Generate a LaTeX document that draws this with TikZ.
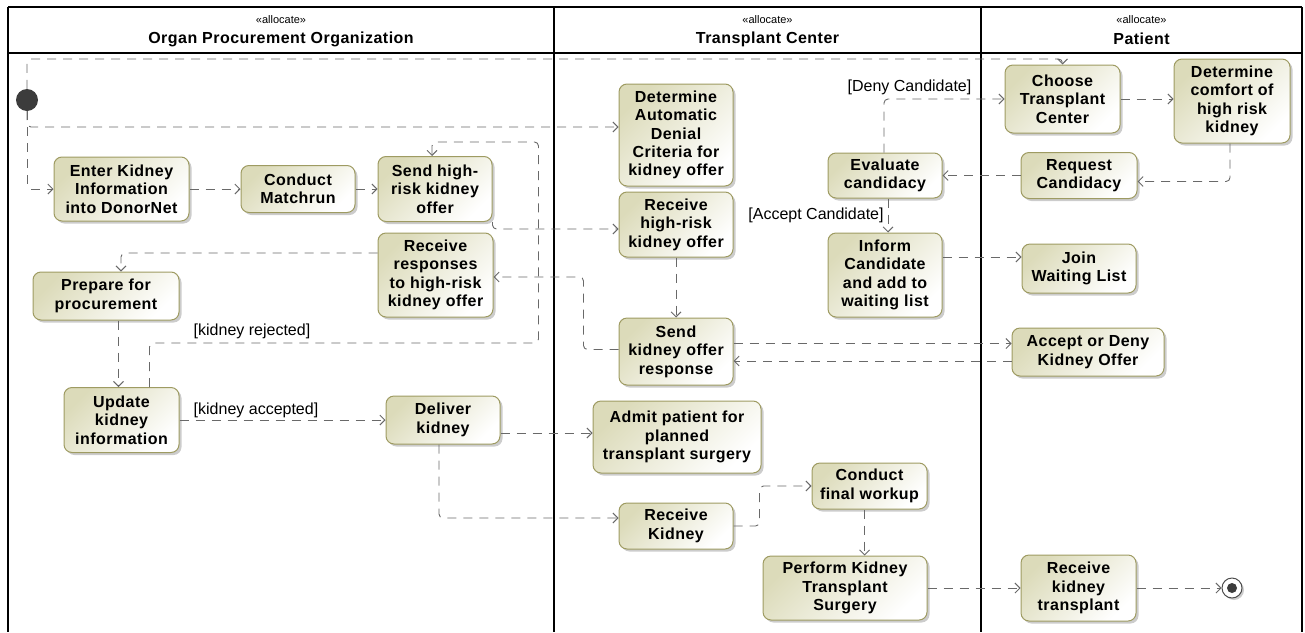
\documentclass[tikz,border=0pt]{standalone}
\usepackage{fontspec}
\setmainfont{Liberation Sans}
\newfontfamily\actfont[LetterSpace=3]{Liberation Sans}
\usetikzlibrary{arrows.meta,shadows}
\definecolor{actfill}{RGB}{220,219,186}
\definecolor{actline}{RGB}{158,155,98}
\definecolor{flowgray}{RGB}{105,105,105}
\definecolor{initgray}{RGB}{60,60,60}
\begin{document}
\begin{tikzpicture}[x=1pt,y=-1pt,
  act/.style 2 args={draw=actline, line width=1pt, rounded corners=8pt,
    top color=actfill, bottom color=white, shading angle=45,
    drop shadow={shadow xshift=2.5pt, shadow yshift=-2.5pt, fill=black!40, opacity=0.5},
    minimum width=#1, minimum height=#2, inner sep=0pt, align=center,
    font=\actfont\bfseries\fontsize{16}{18.4}\selectfont},
  flow/.style={draw=flowgray, line width=0.9pt, dash pattern=on 9pt off 7pt,
    rounded corners=4pt, -{Straight Barb[length=5pt,width=10pt]}},
  guard/.style={font=\fontsize{16}{18}\selectfont, inner sep=0pt},
  lane/.style={line width=1.6pt},
  stereo/.style={font=\fontsize{11}{12}\selectfont},
  lanetitle/.style={font=\actfont\bfseries\fontsize{16}{18}\selectfont}]
  \useasboundingbox (0,0) rectangle (1305,632);
  \draw[lane] (8,7) -- (1302,7) (8,53) -- (1302,53);
  \foreach \x in {8,554,981,1302} \draw[lane] (\x,7) -- (\x,632);
  \node[stereo] (stopo) at (281,20) {«allocate»};
  \node[lanetitle] (hdopo) at (281,39) {Organ Procurement Organization};
  \node[stereo] (sttc) at (767.5,20) {«allocate»};
  \node[lanetitle] (hdtc) at (767.5,39) {Transplant Center};
  \node[stereo] (stpat) at (1141.5,20) {«allocate»};
  \node[lanetitle] (hdpat) at (1141.5,39) {Patient};

  \node[circle, fill=initgray, minimum size=22pt, inner sep=0pt] (init) at (27,100) {};
  \node[act={135}{64}] (enter) at (121.5,189) {Enter Kidney\\Information\\into DonorNet};
  \node[act={114}{47}] (match) at (298,189) {Conduct\\Matchrun};
  \node[act={114}{65}] (sendoffer) at (435,189) {Send high-\\risk kidney\\offer};
  \node[act={115}{84}] (recresp) at (435.5,275) {Receive\\responses\\to high-risk\\kidney offer};
  \node[act={146}{48}] (prepare) at (106,296) {Prepare for\\procurement};
  \node[act={115}{65}] (update) at (121.5,420) {Update\\kidney\\information};
  \node[act={114}{48}] (deliver) at (443,420) {Deliver\\kidney};
  \node[act={114}{102}] (autodeny) at (676,135) {Determine\\Automatic\\Denial\\Criteria for\\kidney offer};
  \node[act={114}{65}] (rechigh) at (676,224.5) {Receive\\high-risk\\kidney offer};
  \node[act={114}{67}] (sendresp) at (676,351.5) {Send\\kidney offer\\response};
  \node[act={168}{72}] (admit) at (677,437) {Admit patient for\\planned\\transplant surgery};
  \node[act={114}{46}] (reckidney) at (676,526) {Receive\\Kidney};
  \node[act={115}{46}] (workup) at (869.5,486) {Conduct\\final workup};
  \node[act={164}{64}] (perform) at (845,588) {Perform Kidney\\Transplant\\Surgery};
  \node[act={114}{45}] (evaluate) at (885,175.5) {Evaluate\\candidacy};
  \node[act={114}{84}] (inform) at (885,275) {Inform\\Candidate\\and add to\\waiting list};
  \node[act={115}{68}] (choose) at (1062.5,99) {Choose\\Transplant\\Center};
  \node[act={116}{84}] (comfort) at (1232,101) {Determine\\comfort of\\high risk\\kidney};
  \node[act={116}{46}] (request) at (1079,175.5) {Request\\Candidacy};
  \node[act={114}{49}] (join) at (1079,268.5) {Join\\Waiting List};
  \node[act={152}{48}] (acceptdeny) at (1088,352) {Accept or Deny\\Kidney Offer};
  \node[act={115}{66}] (rectrans) at (1078.5,588) {Receive\\kidney\\transplant};
  \node[circle, draw=black!70, fill=white, line width=1pt, minimum size=20pt, inner sep=0pt,
    drop shadow={shadow xshift=2pt, shadow yshift=-2pt, fill=black!40, opacity=0.5},
    path picture={\fill[initgray] (path picture bounding box.center) circle (5pt);}] (final) at (1232,588) {};

  \draw[flow] (init.north) -- (init |- 0,59) -| (choose.north);
  \draw[flow] (init.south) |- ([yshift=8pt]autodeny.west);
  \draw[flow] (init.south) |- (enter.west);
  \draw[flow] (enter.east) -- (match.west);
  \draw[flow] (match.east) -- (sendoffer.west);
  \draw[flow] (sendoffer.south east) |- ([yshift=-4.5pt]rechigh.west);
  \draw[flow] (rechigh) -- (sendresp);
  \draw[flow] ([yshift=8pt]sendresp.east) -- ([yshift=8pt]sendresp.east -| acceptdeny.west);
  \draw[flow] ([yshift=-9pt]acceptdeny.west) -- ([yshift=-9pt]acceptdeny.west -| sendresp.east);
  \draw[flow] ([yshift=2pt]sendresp.west) -| ([xshift=90pt,yshift=-2pt]recresp.east) -- ([yshift=-2pt]recresp.east);
  \draw[flow] ([yshift=22pt]recresp.west) -| ([xshift=15pt]prepare.north);
  \draw[flow] ([xshift=-3pt]update.north |- prepare.south) -- ([xshift=-3pt]update.north);
  \draw[flow] ([xshift=28pt]update.north) -- ++(0,-44) -| ([xshift=46pt,yshift=14pt]sendoffer.north east) -| ([xshift=-3pt]sendoffer.north);
  \node[guard] (rej) at (252,331) {[kidney rejected]};
  \draw[flow] (update.east) -- (deliver.west);
  \node[guard] (acc) at (256,410) {[kidney accepted]};
  \draw[flow] ([yshift=-13pt]deliver.east) -- ([yshift=-13pt]deliver.east -| admit.west);
  \draw[flow] ([xshift=-4pt]deliver.south) |- ([yshift=8pt]reckidney.west);
  \draw[flow] (reckidney.east) -- ++(26,0) |- (workup.west);
  \draw[flow] ([xshift=-5pt]workup.south) -- ([xshift=-5pt]workup.south |- perform.north);
  \draw[flow] (perform.east) -- (rectrans.west);
  \draw[flow] (rectrans.east) -- (final.west);
  \draw[flow] (choose.east) -- (choose.east -| comfort.west);
  \draw[flow] ([xshift=-2pt]comfort.south) |- ([yshift=-6pt]request.east);
  \draw[flow] (request.west) -- (evaluate.east);
  \draw[flow] ([xshift=-1pt]evaluate.north) |- (choose.west);
  \node[guard] (deny) at (909.5,87) {[Deny Candidate]};
  \draw[flow] ([xshift=3pt]evaluate.south) -- ([xshift=3pt]inform.north);
  \node[guard] (acccand) at (816,215) {[Accept Candidate]};
  \draw[flow] ([yshift=18pt]inform.east) -- ([yshift=18pt]inform.east -| join.west);
\end{tikzpicture}
\end{document}
